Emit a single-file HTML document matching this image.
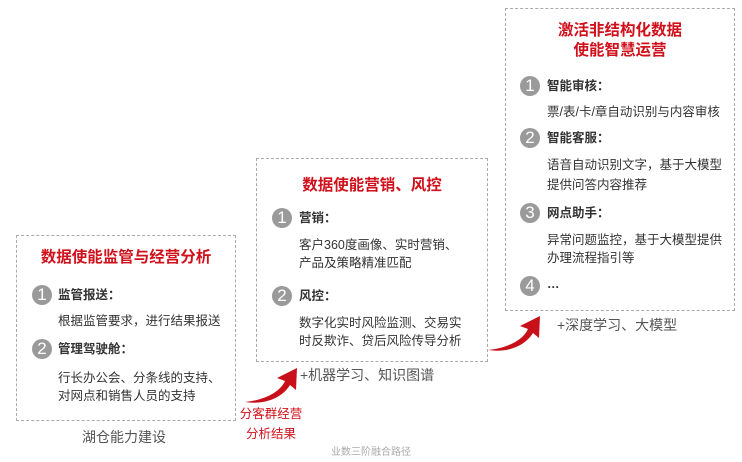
<!DOCTYPE html>
<html><head><meta charset="utf-8"><style>
body{margin:0;width:742px;height:462px;background:#fff;position:relative;overflow:hidden;font-family:"Liberation Sans","Noto Sans CJK SC",sans-serif;color:#333}
.box{position:absolute;border:1.5px dashed #aaa;box-sizing:border-box}
.t{position:absolute;white-space:nowrap;font-size:12.5px;line-height:16px}
.h{position:absolute;white-space:nowrap;font-size:15.5px;font-weight:bold;color:#d0101b;text-align:center;line-height:19px}
.b{font-weight:bold}
.c{position:absolute;width:20px;height:20px;border-radius:50%;background:#9a9a9a;color:#fff;font-size:17px;line-height:20px;text-align:center}
.r{color:#d0101b}
</style></head><body>
<div class="box" style="left:16px;top:235px;width:220px;height:186px"></div>
<div class="box" style="left:256px;top:158px;width:232px;height:204px"></div>
<div class="box" style="left:505px;top:8px;width:230px;height:303px"></div>

<div class="h" style="left:16px;width:220px;top:248px">数据使能监管与经营分析</div>
<div class="c" style="left:32px;top:285px">1</div><div class="t b" style="left:58px;top:287px">监管报送：</div>
<div class="t" style="left:58px;top:313px">根据监管要求，进行结果报送</div>
<div class="c" style="left:32px;top:339px">2</div><div class="t b" style="left:58px;top:341px">管理驾驶舱：</div>
<div class="t" style="left:58px;top:370px">行长办公会、分条线的支持、</div>
<div class="t" style="left:58px;top:388px">对网点和销售人员的支持</div>
<div class="t" style="left:82px;top:429px;font-size:14px;color:#555">湖仓能力建设</div>

<div class="h" style="left:256px;width:232px;top:176px">数据使能营销、风控</div>
<div class="c" style="left:272px;top:208px">1</div><div class="t b" style="left:299px;top:210px">营销：</div>
<div class="t" style="left:299px;top:237px">客户360度画像、实时营销、</div>
<div class="t" style="left:299px;top:255px">产品及策略精准匹配</div>
<div class="c" style="left:272px;top:286px">2</div><div class="t b" style="left:299px;top:288px">风控：</div>
<div class="t" style="left:299px;top:315px">数字化实时风险监测、交易实</div>
<div class="t" style="left:299px;top:333px">时反欺诈、贷后风险传导分析</div>
<div class="t" style="left:300px;top:367px;font-size:14px;color:#555">+机器学习、知识图谱</div>

<div class="h" style="left:505px;width:230px;top:21px">激活非结构化数据</div>
<div class="h" style="left:505px;width:230px;top:41px">使能智慧运营</div>
<div class="c" style="left:520px;top:76px">1</div><div class="t b" style="left:547px;top:78px">智能审核：</div>
<div class="t" style="left:547px;top:104px">票/表/卡/章自动识别与内容审核</div>
<div class="c" style="left:520px;top:128px">2</div><div class="t b" style="left:547px;top:130px">智能客服：</div>
<div class="t" style="left:547px;top:157px">语音自动识别文字，基于大模型</div>
<div class="t" style="left:547px;top:177px">提供问答内容推荐</div>
<div class="c" style="left:520px;top:203px">3</div><div class="t b" style="left:547px;top:205px">网点助手：</div>
<div class="t" style="left:547px;top:232px">异常问题监控，基于大模型提供</div>
<div class="t" style="left:547px;top:250px">办理流程指引等</div>
<div class="c" style="left:520px;top:276px">4</div><div class="t b" style="left:547px;top:276px">…</div>
<div class="t" style="left:557px;top:317px;font-size:14px;color:#555">+深度学习、大模型</div>

<svg style="position:absolute;left:0;top:0" width="742" height="462">
<path d="M245 402 C265 400 280 392 285 381 L277 378 L297 368 L296 390 L290 385 C282 398 265 405 245 402Z" fill="#c8101a"/>
<path d="M488 350 C508 348 523 340 528 329 L520 326 L540 316 L539 338 L533 333 C525 346 508 353 488 350Z" fill="#c8101a"/>
</svg>
<div class="t r" style="left:236px;top:406px;width:70px;text-align:center;font-size:12.5px">分客群经营</div>
<div class="t r" style="left:236px;top:426px;width:70px;text-align:center;font-size:12.5px">分析结果</div>
<div class="t" style="left:0;width:742px;text-align:center;top:445px;font-size:10px;color:#aaa">业数三阶融合路径</div>
</body></html>
